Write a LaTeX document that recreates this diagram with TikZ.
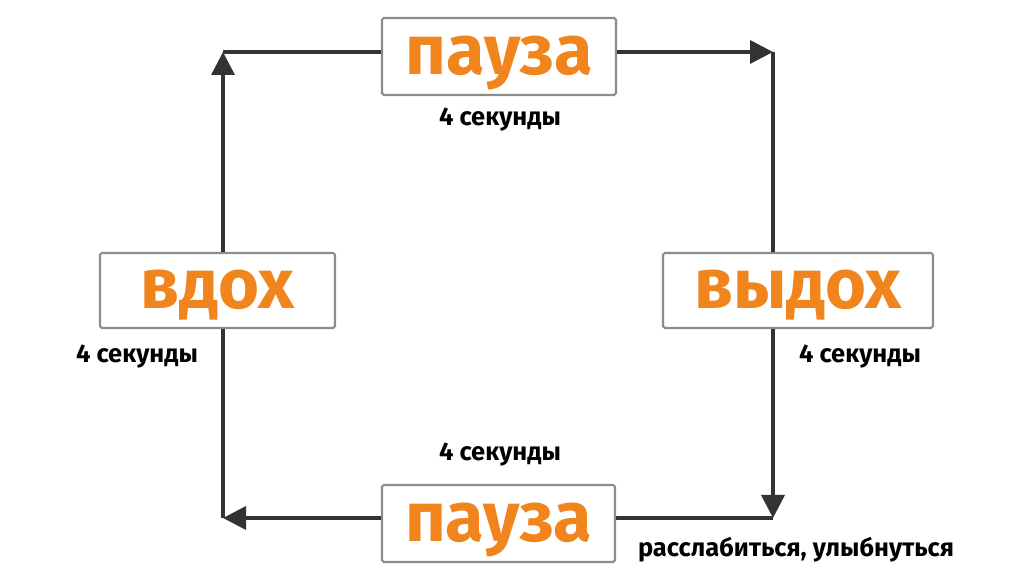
\documentclass[tikz,border=0pt]{standalone}
\usepackage{fontspec}
\setmainfont{Fira Sans}
\usetikzlibrary{arrows.meta}
\definecolor{stageorange}{HTML}{F0851E}
\definecolor{boxgray}{HTML}{8C8C8C}
\definecolor{linegray}{HTML}{333333}
\tikzset{stage/.style={draw=boxgray,line width=1.2pt,fill=white,rounded corners=1pt,inner sep=0pt,text height=21pt,text depth=0pt,text=stageorange,font=\fontsize{40}{40}\selectfont\bfseries},
         note/.style={font=\fontsize{14.5}{14.5}\selectfont\bfseries,text=black},
         flow/.style={draw=linegray,line width=2pt},
        }

\begin{document}
\begin{tikzpicture}[>={Triangle[length=4.6mm,width=4.6mm]}]
        \useasboundingbox(0,0)rectangle(20.48,11.52);
        \node[stage,minimum width=4.68cm,minimum height=1.54cm](pause1)at(9.98,10.39){пауза};
        \node[stage,minimum width=4.7cm,minimum height=1.5cm](vdoh)at(4.35,5.71){вдох};
        \node[stage,minimum width=5.4cm,minimum height=1.5cm](vydoh)at(15.96,5.71){выдох};
        \node[stage,minimum width=4.66cm,minimum height=1.54cm](pause2)at(9.97,1.05){пауза};

        \coordinate(c1)at(4.46,10.48);
        \coordinate(c2)at(15.46,10.48);
        \coordinate(c3)at(15.46,1.16);
        \coordinate(c4)at(4.46,1.16);

        \node[note](t1)at(10.0,9.12){4 секунды};
        \node[note](t2)at(2.74,4.38){4 секунды};
        \node[note](t3)at(17.2,4.38){4 секунды};
        \node[note](t4)at(10.0,2.42){4 секунды};
        \node[note](t5)at(15.92,0.52){расслабиться, улыбнуться};

        \draw[flow,->](vdoh.north-|c1)--(c1);
        \draw[flow](c1)--(c1-|pause1.west);
        \draw[flow,->](c2-|pause1.east)--(c2);
        \draw[flow](c2)--(vydoh.north-|c2);
        \draw[flow,->](vydoh.south-|c3)--(c3);
        \draw[flow](c3)--(c3-|pause2.east);
        \draw[flow,->](c4-|pause2.west)--(c4);
        \draw[flow](c4)--(vdoh.south-|c4);
    \end{tikzpicture}
\end{document}
